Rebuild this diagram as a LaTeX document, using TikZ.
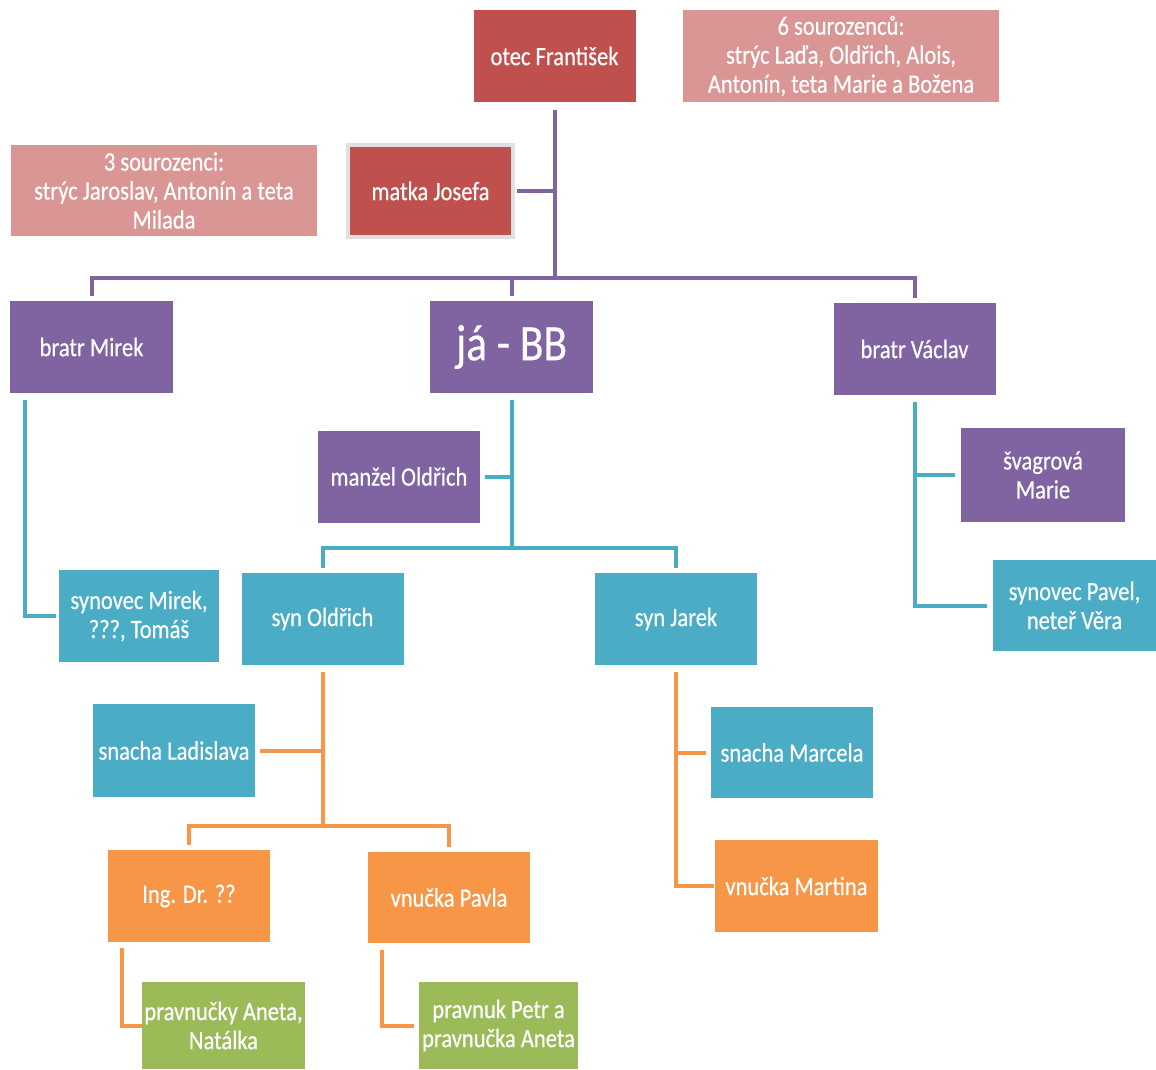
\documentclass[tikz,border=0pt]{standalone}
\usepackage{fontspec}
\setmainfont{Carlito}[FakeStretch=0.85,FakeBold=0.4]
\definecolor{cred}{HTML}{C0504D}
\definecolor{cpink}{HTML}{D99694}
\definecolor{cpurple}{HTML}{8064A2}
\definecolor{cblue}{HTML}{4BACC6}
\definecolor{corange}{HTML}{F79646}
\definecolor{cgreen}{HTML}{9BBB59}
\tikzset{
  box/.style={rectangle, inner sep=0pt, minimum width=162pt, minimum height=92pt,
    text=white, align=center, font=\fontsize{26.5}{29}\selectfont},
  redbox/.style={box, fill=cred},
  pinkbox/.style={box, fill=cpink},
  purbox/.style={box, fill=cpurple},
  bluebox/.style={box, fill=cblue},
  orabox/.style={box, fill=corange},
  grebox/.style={box, fill=cgreen},
  pl/.style={draw=cpurple, line width=4pt},
  bl/.style={draw=cblue, line width=4pt},
  ol/.style={draw=corange, line width=4pt},
}
\begin{document}
\begin{tikzpicture}[x=1pt,y=-1pt]
\useasboundingbox (0,0) rectangle (1156,1070);
% nodes
\node[redbox] (otec) at (554.5,56) {otec František};
\node[pinkbox, minimum width=316pt] (sour6) at (841,56) {6 sourozenců:\\strýc Laďa, Oldřich, Alois,\\Antonín, teta Marie a Božena};
\node[pinkbox, minimum width=306pt, minimum height=91pt] (sour3) at (164,190.5) {3 sourozenci:\\strýc Jaroslav, Antonín a teta\\Milada};
\node[redbox, minimum width=165pt, draw=black!12, line width=4pt] (matka) at (430.5,191) {matka Josefa};
\node[purbox, minimum width=163pt] (mirek) at (91.5,347) {bratr Mirek};
\node[purbox, minimum width=163pt, font=\fontsize{51}{55}\selectfont] (ja) at (511.5,347) {já - BB};
\node[purbox] (vaclav) at (914.5,349) {bratr Václav};
\node[purbox] (manzel) at (399,476.5) {manžel Oldřich};
\node[purbox, minimum width=164pt, minimum height=94pt] (svagrova) at (1043,475) {švagrová\\Marie};
\node[bluebox, minimum width=160pt] (synmirek) at (139,616) {synovec Mirek,\\???, Tomáš};
\node[bluebox] (synold) at (322.5,619) {syn Oldřich};
\node[bluebox] (synjarek) at (676,619) {syn Jarek};
\node[bluebox, minimum width=163pt, minimum height=91pt] (pavel) at (1074.5,605.5) {synovec Pavel,\\neteř Věra};
\node[bluebox, minimum height=93pt] (ladislava) at (174,750.5) {snacha Ladislava};
\node[bluebox, minimum height=91pt] (marcela) at (792,752.5) {snacha Marcela};
\node[orabox] (ing) at (189,896) {Ing. Dr. ??};
\node[orabox, minimum height=91pt] (pavla) at (449,897.5) {vnučka Pavla};
\node[orabox, minimum width=163pt] (martina) at (796.5,886) {vnučka Martina};
\node[grebox, minimum width=163pt, minimum height=87pt] (pravnucky) at (223.5,1025.5) {pravnučky Aneta,\\Natálka};
\node[grebox, minimum width=159pt, minimum height=87pt] (petr) at (498.5,1025.5) {pravnuk Petr a\\pravnučka Aneta};
% purple connectors
\coordinate (pj) at (554.5,278);
\draw[pl] ([yshift=-8pt]otec.south) -- (pj);
\draw[pl] ([xshift=2pt]matka.east) -- (matka.east -| pj);
\draw[pl] ([yshift=5pt]mirek.north) |- (vaclav.north |- pj) -- ([yshift=5pt]vaclav.north);
\draw[pl] ([yshift=5pt]ja.north) -- (ja.north |- pj);
% blue connectors
\draw[bl] ([xshift=15pt,yshift=-7pt]mirek.south west) |- ([xshift=-3pt]synmirek.west);
\coordinate (jb) at (511.5,548);
\draw[bl] ([yshift=-7pt]ja.south) -- (jb);
\draw[bl] ([xshift=5pt]manzel.east) -- (manzel.east -| jb);
\draw[bl] ([yshift=5pt]synold.north) |- (synjarek.north |- jb) -- ([yshift=5pt]synjarek.north);
\draw[bl] ([yshift=-7pt]vaclav.south) |- ([xshift=-6pt]pavel.west);
\draw[bl] ([xshift=-6pt]svagrova.west) -- (svagrova.west -| vaclav.south);
% orange connectors
\coordinate (ob) at (322.5,826);
\draw[ol] ([yshift=-7pt]synold.south) -- (ob);
\draw[ol] ([xshift=5pt]ladislava.east) -- (ladislava.east -| ob);
\draw[ol] ([yshift=5pt]ing.north) |- (pavla.north |- ob) -- ([yshift=5pt]pavla.north);
\draw[ol] ([yshift=-7pt]synjarek.south) |- ([xshift=-1pt]martina.west);
\draw[ol] ([xshift=-5pt]marcela.west) -- (marcela.west -| synjarek.south);
\draw[ol] ([xshift=14pt,yshift=-6pt]ing.south west) |- (pravnucky.west);
\draw[ol] ([xshift=14pt,yshift=-7pt]pavla.south west) |- ([xshift=-5pt]petr.west);
\end{tikzpicture}
\end{document}
